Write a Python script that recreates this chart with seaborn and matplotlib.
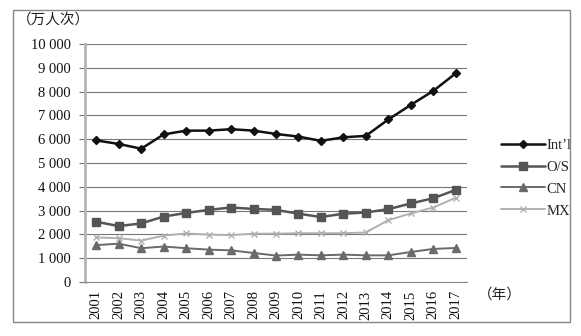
import numpy as np
import pandas as pd
import matplotlib
matplotlib.use("Agg")
import matplotlib.pyplot as plt
from matplotlib.patches import Rectangle
from matplotlib.ticker import FuncFormatter, MultipleLocator
import seaborn as sns

years = [str(y) for y in range(2001, 2018)]
intl = [5950, 5800, 5600, 6200, 6360, 6360, 6420, 6360, 6220, 6110, 5930, 6080, 6140, 6830, 7440, 8030, 8770]
os_ = [2530, 2350, 2460, 2750, 2900, 3030, 3130, 3070, 3030, 2870, 2730, 2870, 2920, 3060, 3300, 3520, 3870]
cn = [1550, 1610, 1420, 1490, 1420, 1360, 1330, 1220, 1110, 1150, 1120, 1150, 1120, 1120, 1260, 1390, 1430]
mx = [1870, 1840, 1740, 1950, 2040, 1990, 1970, 2030, 2030, 2050, 2050, 2050, 2080, 2600, 2880, 3130, 3540]
series_names = ["Int\u2019l", "O/S", "CN", "MX"]

sns.set_theme(style="white")
plt.rcParams['font.family'] = ['Liberation Serif', 'Noto Sans CJK SC']

df = pd.DataFrame({
    "year": years * 4,
    "value": intl + os_ + cn + mx,
    "series": sum([[n] * len(years) for n in series_names], []),
})
df["x"] = df["year"].map({y: i for i, y in enumerate(years)})

fig = plt.figure(figsize=(5.81, 3.36), dpi=100)
ax = fig.add_axes([85/581, 1-282/336, (467-85)/581, (282-44)/336])

palette = {series_names[0]: "#111111", series_names[1]: "#555555",
           series_names[2]: "#6a6a6a", series_names[3]: "#b0b0b0"}
markers = {series_names[0]: "D", series_names[1]: "s",
           series_names[2]: "^", series_names[3]: "x"}
sizes = {series_names[0]: 1.8, series_names[1]: 1.8,
         series_names[2]: 1.4, series_names[3]: 1.4}
msizes = {series_names[0]: 4.5, series_names[1]: 5.5,
          series_names[2]: 5.5, series_names[3]: 5}

for n in series_names:
    sub = df[df["series"] == n]
    sns.lineplot(data=sub, x="x", y="value", ax=ax, color=palette[n],
                 marker=markers[n], markersize=msizes[n], linewidth=sizes[n],
                 markeredgecolor=palette[n], markeredgewidth=1, label=n)

ax.set_xlim(-0.5, len(years) - 0.5)
ax.set_ylim(0, 10000)
ax.yaxis.set_major_locator(MultipleLocator(1000))
ax.yaxis.set_major_formatter(FuncFormatter(lambda v, p: f"{int(v):,}".replace(",", " ")))
ax.set_xticks(range(len(years)))
ax.set_xticklabels(years, rotation=90)
ax.set_xticks(np.arange(-0.5, len(years), 1), minor=True)
ax.tick_params(axis="x", which="major", length=0, pad=6, labelsize=10.5, colors="#111111")
ax.tick_params(axis="x", which="minor", length=3, width=0.8, color="#777777", direction="out")
ax.tick_params(axis="y", which="major", length=4, width=0.8, color="#777777", pad=6,
               labelsize=10.5, labelcolor="#111111", left=True)
ax.grid(axis="y", color="#777777", linewidth=0.8, linestyle="-")
ax.set_axisbelow(True)
ax.set_xlabel("")
ax.set_ylabel("")
for s in ["top", "right"]:
    ax.spines[s].set_visible(False)
ax.spines["left"].set_color("#b5b5b5")
ax.spines["left"].set_linewidth(2)
ax.spines["bottom"].set_color("#888888")
ax.spines["bottom"].set_linewidth(0.8)

leg = ax.legend(loc="center left", bbox_to_anchor=(488/581, 1-178/336),
                bbox_transform=fig.transFigure, frameon=False, fontsize=10.5,
                handlelength=3.0, handletextpad=0.1, labelspacing=0.6)

fig.text(17/581, 1-20/336, "（万人次）", fontsize=10.5, va="center", ha="left",
         family=["Noto Sans CJK SC"], color="#222222")
fig.text(478/581, 1-295/336, "（年）", fontsize=10.5, va="center", ha="left",
         family=["Noto Sans CJK SC"], color="#222222")

fig.patches.append(Rectangle((13/581, 1-322/336), (570-13)/581, (322-10)/336,
                             transform=fig.transFigure, fill=False,
                             edgecolor="#888888", linewidth=1))

fig.savefig("out.png", dpi=100)
